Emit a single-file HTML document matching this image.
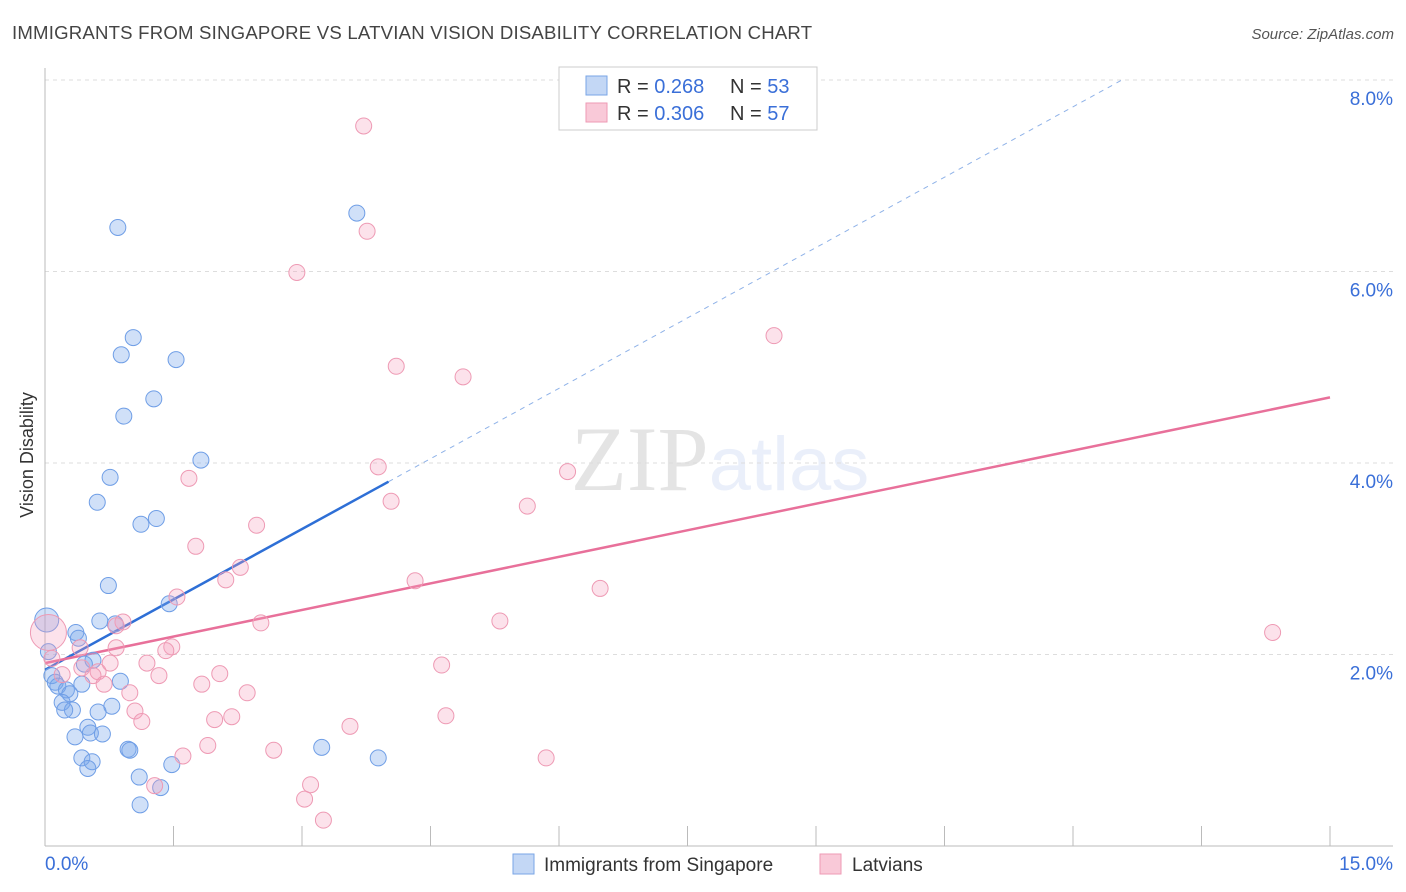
<!DOCTYPE html>
<html><head><meta charset="utf-8">
<style>
body{margin:0;background:#fff;font-family:"Liberation Sans",sans-serif;}
svg{display:block}
</style></head>
<body>
<svg id="chart" width="1406" height="892" xmlns="http://www.w3.org/2000/svg">
<text x="12" y="39" font-size="18.6" fill="#444" letter-spacing="0.2" font-family="Liberation Sans, sans-serif">IMMIGRANTS FROM SINGAPORE VS LATVIAN VISION DISABILITY CORRELATION CHART</text>
<text x="1394" y="39" font-size="15" fill="#555" font-style="italic" text-anchor="end">Source: ZipAtlas.com</text>
<text x="720" y="490" font-size="92" text-anchor="middle" fill="#000" opacity="0.1" font-family="Liberation Serif, serif">ZIP<tspan fill="#3b6fd6" font-family="Liberation Sans, sans-serif" font-size="76">atlas</tspan></text>
<text transform="translate(33,455) rotate(-90)" font-size="18" fill="#333" text-anchor="middle">Vision Disability</text>
<g id="grid"></g><g id="axes"></g><g id="lines"></g><g id="points"></g>
<g>
<rect x="559" y="67" width="258" height="63" fill="#fff" stroke="#ccc"/>
<rect x="586" y="76" width="21" height="19" fill="#c3d7f5" stroke="#7aa6e6"/>
<rect x="586" y="103" width="21" height="19" fill="#f9c9d8" stroke="#ee9ab4"/>
<text x="617" y="93" font-size="20" fill="#333">R = <tspan fill="#3a6fd8">0.268</tspan></text>
<text x="730" y="93" font-size="20" fill="#333">N = <tspan fill="#3a6fd8">53</tspan></text>
<text x="617" y="120" font-size="20" fill="#333">R = <tspan fill="#3a6fd8">0.306</tspan></text>
<text x="730" y="120" font-size="20" fill="#333">N = <tspan fill="#3a6fd8">57</tspan></text>
</g>
<g>
<rect x="513" y="854" width="21" height="20" fill="#c3d7f5" stroke="#7aa6e6"/>
<text x="544" y="871" font-size="19" fill="#333">Immigrants from Singapore</text>
<rect x="820" y="854" width="21" height="20" fill="#f9c9d8" stroke="#ee9ab4"/>
<text x="852" y="871" font-size="19" fill="#333">Latvians</text>
</g>
</svg>
<script>
const blueX=[0.85,3.64,1.03,0.89,1.53,1.27,0.92,1.82,0.76,0.61,1.30,1.12,0.74,1.45,0.64,0.82,0.36,0.39,0.02,0.04,0.56,0.46,0.08,0.12,0.15,0.25,0.29,0.43,0.88,0.20,0.78,0.32,0.23,0.62,0.50,0.53,0.67,0.35,0.97,0.99,3.23,0.43,0.55,0.50,3.89,1.48,1.10,1.35,1.11];
const blueY=[6.46,6.61,5.31,5.13,5.08,4.67,4.49,4.03,3.85,3.59,3.42,3.36,2.72,2.53,2.35,2.32,2.23,2.17,2.36,2.03,1.94,1.90,1.78,1.71,1.67,1.63,1.59,1.69,1.72,1.50,1.46,1.42,1.42,1.40,1.24,1.18,1.17,1.14,1.01,1.00,1.03,0.92,0.88,0.81,0.92,0.85,0.72,0.61,0.43];
const blueR=[8,8,8,8,8,8,8,8,8,8,8,8,8,8,8,8,8,8,12,8,8,8,8,8,8,8,8,8,8,8,8,8,8,8,8,8,8,8,8,8,8,8,8,8,8,8,8,8,8];
const pinkX=[3.72,3.76,2.94,8.51,4.10,4.88,3.89,6.10,1.68,4.04,5.63,2.47,1.76,2.28,2.11,4.32,6.48,1.54,5.31,2.52,0.91,0.83,0.04,1.48,1.41,0.83,0.41,0.08,1.19,0.76,0.43,4.63,0.62,2.04,0.56,1.33,0.20,0.69,1.83,0.99,2.36,1.05,1.13,2.18,1.98,4.68,3.56,1.90,2.67,1.61,5.85,1.28,3.10,3.03,3.25,14.33];
const pinkY=[7.52,6.42,5.99,5.33,5.01,4.90,3.96,3.91,3.84,3.60,3.55,3.35,3.13,2.91,2.78,2.77,2.69,2.60,2.35,2.33,2.34,2.30,2.23,2.08,2.04,2.07,2.07,1.96,1.91,1.91,1.86,1.89,1.82,1.80,1.78,1.78,1.79,1.69,1.69,1.60,1.60,1.41,1.30,1.35,1.32,1.36,1.25,1.05,1.00,0.94,0.92,0.63,0.64,0.49,0.27,2.23];
const yTicks=[2,4,6,8];
const yTickLabels=["2.0%","4.0%","6.0%","8.0%"];
const blueFit=[1.84,0.49];
const pinkFit=[1.91,0.185];
const blueSolidEnd=4.01;

const X0=45,X1=1330,Y0=846,PX_PER=95.75;
const sx=v=>X0+(v/15)*(X1-X0);
const sy=v=>Y0-v*PX_PER;
const NS="http://www.w3.org/2000/svg";
function mk(tag,parent,attrs){const e=document.createElementNS(NS,tag);for(const k in attrs)e.setAttribute(k,attrs[k]);document.getElementById(parent).appendChild(e);return e;}

yTicks.forEach((t,i)=>{
 const g=mk('line','grid',{x1:45,x2:1393,y1:sy(t),y2:sy(t),stroke:'#ddd','stroke-dasharray':'4,4'});
 
 
 const l=mk('text','grid',{x:1393,y:sy(t)+25,'font-size':19,fill:'#3a6fd8','text-anchor':'end'});
 l.textContent=yTickLabels[i];
 
 
});
const xa=mk('line','axes',{x1:45,x2:1393,y1:846,y2:846,stroke:'#bbb'});


const ya=mk('line','axes',{x1:45,x2:45,y1:68,y2:846,stroke:'#bbb'});


for(let i=0;i<=10;i++){
 const t=mk('line','axes',{x1:sx(i*1.5),x2:sx(i*1.5),y1:826,y2:846,stroke:'#bbb'});
 
 
}
const xl0=mk('text','axes',{x:45,y:870,'font-size':19,fill:'#3a6fd8'});xl0.textContent="0.0%";


const xl1=mk('text','axes',{x:1393,y:870,'font-size':19,fill:'#3a6fd8','text-anchor':'end'});xl1.textContent="15.0%";



blueX.forEach((x,i)=>{
 const c=mk('circle','points',{cx:sx(x),cy:sy(blueY[i]),r:blueR[i],fill:'rgba(120,165,235,0.35)',stroke:'#6f9ee6','stroke-width':1});
 
 
});
pinkX.forEach((x,i)=>{
 const c=mk('circle','points',{cx:sx(x),cy:sy(pinkY[i]),r:(i===22?18:8),fill:'rgba(245,160,190,0.3)',stroke:'#ee9ab4','stroke-width':1});
 
 
});
const bEndDash=(8.0-blueFit[0])/blueFit[1];
const bd=mk('line','lines',{x1:sx(blueSolidEnd),y1:sy(blueFit[0]+blueFit[1]*blueSolidEnd),x2:sx(bEndDash),y2:sy(8.0),stroke:'#8fb2e8','stroke-width':1,'stroke-dasharray':'5,5'});


const bl=mk('line','lines',{x1:sx(0),y1:sy(blueFit[0]),x2:sx(blueSolidEnd),y2:sy(blueFit[0]+blueFit[1]*blueSolidEnd),stroke:'#2e6fd6','stroke-width':2.5});


const pl=mk('line','lines',{x1:sx(0),y1:sy(pinkFit[0]),x2:sx(15),y2:sy(pinkFit[0]+pinkFit[1]*15),stroke:'#e8709a','stroke-width':2.5});


</script>
</body></html>
